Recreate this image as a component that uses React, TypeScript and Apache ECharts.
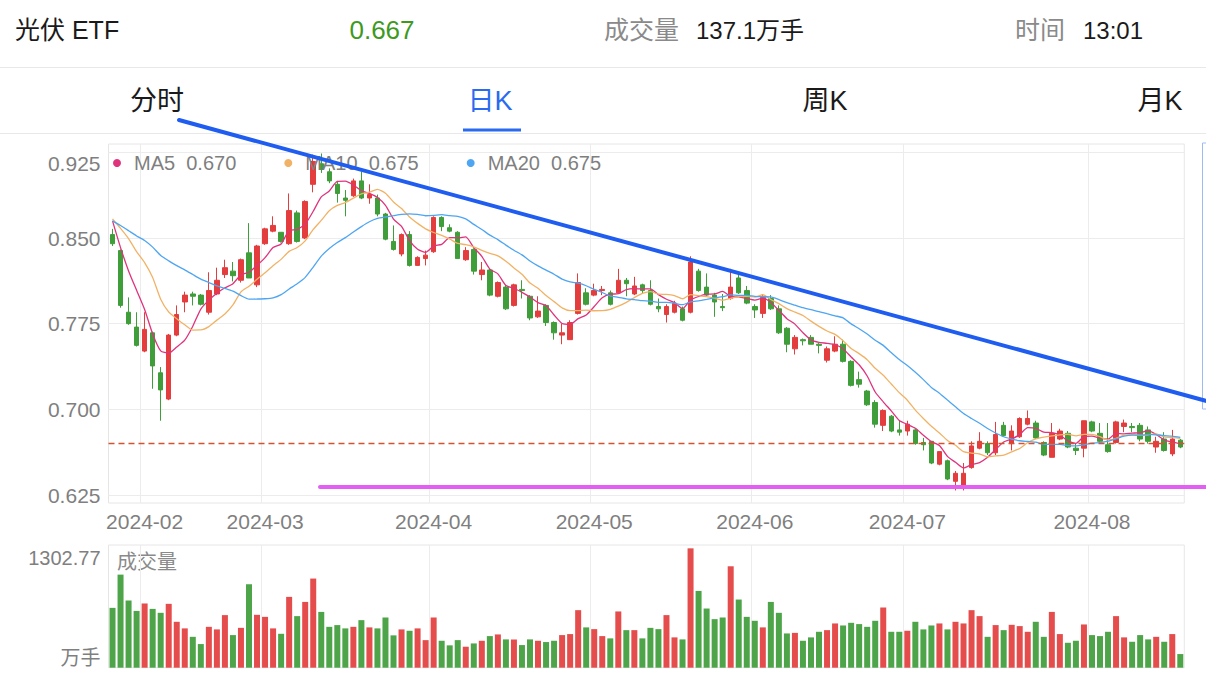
import React, { useEffect, useRef } from 'react';
import * as echarts from 'echarts';

const DATES = [
  '2024-01-26', '2024-01-29', '2024-01-30', '2024-01-31',
  '2024-02-01', '2024-02-02', '2024-02-05', '2024-02-06', '2024-02-07', '2024-02-08',
  '2024-02-19', '2024-02-20', '2024-02-21', '2024-02-22', '2024-02-23',
  '2024-02-26', '2024-02-27', '2024-02-28', '2024-02-29',
  '2024-03-01', '2024-03-04', '2024-03-05', '2024-03-06', '2024-03-07', '2024-03-08',
  '2024-03-11', '2024-03-12', '2024-03-13', '2024-03-14', '2024-03-15',
  '2024-03-18', '2024-03-19', '2024-03-20', '2024-03-21', '2024-03-22',
  '2024-03-25', '2024-03-26', '2024-03-27', '2024-03-28', '2024-03-29',
  '2024-04-01', '2024-04-02', '2024-04-03', '2024-04-08', '2024-04-09', '2024-04-10',
  '2024-04-11', '2024-04-12', '2024-04-15', '2024-04-16', '2024-04-17', '2024-04-18',
  '2024-04-19', '2024-04-22', '2024-04-23', '2024-04-24', '2024-04-25', '2024-04-26',
  '2024-04-29', '2024-04-30',
  '2024-05-06', '2024-05-07', '2024-05-08', '2024-05-09', '2024-05-10',
  '2024-05-13', '2024-05-14', '2024-05-15', '2024-05-16', '2024-05-17',
  '2024-05-20', '2024-05-21', '2024-05-22', '2024-05-23', '2024-05-24',
  '2024-05-27', '2024-05-28', '2024-05-29', '2024-05-30', '2024-05-31',
  '2024-06-03', '2024-06-04', '2024-06-05', '2024-06-06', '2024-06-07',
  '2024-06-11', '2024-06-12', '2024-06-13', '2024-06-14',
  '2024-06-17', '2024-06-18', '2024-06-19', '2024-06-20', '2024-06-21',
  '2024-06-24', '2024-06-25', '2024-06-26', '2024-06-27', '2024-06-28',
  '2024-07-01', '2024-07-02', '2024-07-03', '2024-07-04', '2024-07-05',
  '2024-07-08', '2024-07-09', '2024-07-10', '2024-07-11', '2024-07-12',
  '2024-07-15', '2024-07-16', '2024-07-17', '2024-07-18', '2024-07-19',
  '2024-07-22', '2024-07-23', '2024-07-24', '2024-07-25', '2024-07-26',
  '2024-07-29', '2024-07-30', '2024-07-31',
  '2024-08-01', '2024-08-02', '2024-08-05', '2024-08-06', '2024-08-07', '2024-08-08',
  '2024-08-09', '2024-08-12', '2024-08-13', '2024-08-14', '2024-08-15', '2024-08-16',
];

const OPEN = [
  0.853, 0.839, 0.785, 0.772, 0.751, 0.767, 0.732, 0.709, 0.765, 0.794,
  0.801, 0.800, 0.785, 0.801, 0.818, 0.821, 0.813, 0.837, 0.809, 0.845,
  0.856, 0.855, 0.845, 0.872, 0.850, 0.897, 0.915, 0.908, 0.897, 0.885,
  0.887, 0.900, 0.885, 0.885, 0.871, 0.847, 0.836, 0.853, 0.826, 0.832,
  0.838, 0.868, 0.859, 0.855, 0.831, 0.840, 0.818, 0.822, 0.799, 0.807,
  0.791, 0.805, 0.799, 0.781, 0.791, 0.776, 0.765, 0.761, 0.784, 0.802,
  0.800, 0.804, 0.802, 0.802, 0.813, 0.801, 0.809, 0.804, 0.790, 0.783,
  0.785, 0.788, 0.785, 0.821, 0.807, 0.800, 0.790, 0.797, 0.815, 0.804,
  0.790, 0.784, 0.797, 0.788, 0.771, 0.753, 0.761, 0.763, 0.757, 0.743,
  0.751, 0.757, 0.742, 0.726, 0.716, 0.706, 0.686, 0.694, 0.682, 0.681,
  0.682, 0.671, 0.672, 0.652, 0.655, 0.637, 0.631, 0.649, 0.666, 0.670,
  0.662, 0.686, 0.670, 0.676, 0.687, 0.688, 0.671, 0.658, 0.674, 0.679,
  0.666, 0.666, 0.689, 0.679, 0.669, 0.671, 0.685, 0.685, 0.686, 0.682,
  0.667, 0.674, 0.661, 0.673,
];
const CLOSE = [
  0.845, 0.791, 0.775, 0.756, 0.770, 0.738, 0.717, 0.765, 0.783, 0.800,
  0.799, 0.792, 0.804, 0.813, 0.824, 0.817, 0.831, 0.815, 0.843, 0.858,
  0.861, 0.847, 0.874, 0.847, 0.882, 0.917, 0.910, 0.900, 0.889, 0.883,
  0.900, 0.885, 0.888, 0.871, 0.849, 0.840, 0.853, 0.826, 0.833, 0.835,
  0.868, 0.860, 0.856, 0.832, 0.839, 0.821, 0.822, 0.800, 0.811, 0.788,
  0.809, 0.804, 0.780, 0.786, 0.776, 0.767, 0.767, 0.776, 0.811, 0.792,
  0.804, 0.805, 0.792, 0.813, 0.810, 0.808, 0.804, 0.792, 0.788, 0.790,
  0.793, 0.778, 0.829, 0.804, 0.800, 0.794, 0.789, 0.807, 0.802, 0.793,
  0.787, 0.798, 0.788, 0.767, 0.757, 0.763, 0.760, 0.757, 0.756, 0.753,
  0.757, 0.742, 0.721, 0.722, 0.704, 0.687, 0.699, 0.681, 0.680, 0.687,
  0.670, 0.669, 0.653, 0.663, 0.639, 0.644, 0.644, 0.668, 0.672, 0.662,
  0.678, 0.677, 0.681, 0.692, 0.692, 0.675, 0.660, 0.679, 0.681, 0.667,
  0.664, 0.690, 0.681, 0.672, 0.663, 0.689, 0.688, 0.684, 0.674, 0.672,
  0.672, 0.664, 0.674, 0.667,
];
const LOW = [
  0.843, 0.789, 0.774, 0.755, 0.750, 0.718, 0.690, 0.708, 0.764, 0.785,
  0.791, 0.791, 0.783, 0.800, 0.815, 0.812, 0.811, 0.815, 0.807, 0.844,
  0.855, 0.846, 0.844, 0.846, 0.849, 0.890, 0.907, 0.898, 0.881, 0.869,
  0.886, 0.884, 0.880, 0.869, 0.848, 0.839, 0.834, 0.825, 0.826, 0.826,
  0.837, 0.856, 0.855, 0.832, 0.830, 0.818, 0.813, 0.799, 0.798, 0.787,
  0.790, 0.797, 0.778, 0.780, 0.773, 0.761, 0.757, 0.761, 0.783, 0.791,
  0.799, 0.800, 0.791, 0.801, 0.799, 0.800, 0.801, 0.791, 0.785, 0.776,
  0.784, 0.777, 0.784, 0.803, 0.799, 0.781, 0.786, 0.796, 0.801, 0.792,
  0.780, 0.780, 0.787, 0.766, 0.750, 0.748, 0.756, 0.757, 0.749, 0.741,
  0.750, 0.741, 0.720, 0.719, 0.703, 0.684, 0.681, 0.680, 0.677, 0.677,
  0.669, 0.664, 0.652, 0.651, 0.638, 0.629, 0.629, 0.648, 0.665, 0.660,
  0.660, 0.676, 0.664, 0.675, 0.686, 0.674, 0.659, 0.658, 0.673, 0.666,
  0.660, 0.658, 0.680, 0.671, 0.662, 0.670, 0.680, 0.680, 0.672, 0.670,
  0.662, 0.663, 0.659, 0.666,
];
const HIGH = [
  0.858, 0.840, 0.798, 0.785, 0.785, 0.768, 0.737, 0.766, 0.791, 0.803,
  0.803, 0.801, 0.820, 0.824, 0.831, 0.829, 0.832, 0.863, 0.844, 0.859,
  0.869, 0.855, 0.889, 0.874, 0.883, 0.923, 0.924, 0.911, 0.900, 0.892,
  0.902, 0.908, 0.897, 0.888, 0.872, 0.861, 0.854, 0.856, 0.834, 0.839,
  0.869, 0.869, 0.862, 0.856, 0.842, 0.841, 0.829, 0.823, 0.812, 0.809,
  0.810, 0.813, 0.800, 0.799, 0.792, 0.777, 0.775, 0.778, 0.819, 0.806,
  0.810, 0.808, 0.804, 0.823, 0.815, 0.816, 0.810, 0.813, 0.797, 0.792,
  0.795, 0.790, 0.834, 0.823, 0.819, 0.802, 0.801, 0.823, 0.819, 0.808,
  0.792, 0.801, 0.800, 0.791, 0.772, 0.765, 0.762, 0.765, 0.758, 0.755,
  0.764, 0.761, 0.743, 0.733, 0.717, 0.708, 0.700, 0.695, 0.690, 0.690,
  0.683, 0.675, 0.672, 0.663, 0.656, 0.646, 0.653, 0.672, 0.680, 0.672,
  0.689, 0.689, 0.686, 0.693, 0.699, 0.690, 0.672, 0.688, 0.683, 0.681,
  0.670, 0.690, 0.690, 0.688, 0.688, 0.690, 0.691, 0.688, 0.688, 0.685,
  0.676, 0.680, 0.682, 0.674,
];
// 万手
const VOLUME = [
  653, 1016, 733, 620, 701, 642, 599, 697, 501, 429,
  337, 258, 446, 418, 574, 356, 435, 911, 577, 555,
  429, 370, 773, 563, 718, 973, 609, 446, 465, 429,
  446, 519, 440, 429, 548, 353, 418, 403, 429, 301,
  548, 294, 244, 301, 229, 265, 294, 345, 363, 309,
  309, 247, 309, 294, 280, 294, 356, 367, 628, 440,
  421, 345, 320, 614, 410, 410, 320, 435, 421, 574,
  331, 309, 1302.77, 838, 646, 530, 548, 1107, 744, 555,
  512, 440, 718, 599, 374, 380, 294, 331, 392, 410,
  483, 461, 490, 476, 446, 512, 657, 392, 392, 403,
  501, 418, 461, 483, 418, 501, 483, 628, 563, 337,
  465, 410, 468, 454, 392, 501, 337, 609, 367, 272,
  294, 472, 356, 345, 392, 563, 331, 283, 356, 309,
  337, 283, 367, 149,
];
// closes of the 19 sessions before the first shown day (feed the moving averages)
const PRE_CLOSE = [
  0.872, 0.865, 0.850, 0.848, 0.855, 0.862, 0.859,
  0.868, 0.875, 0.880, 0.872, 0.865, 0.870, 0.866, 0.868,
  0.908, 0.877, 0.841, 0.854,
];

const PRICE_TICKS = [0.625, 0.7, 0.775, 0.85, 0.925];
const MA_PERIODS = [5, 10, 20];
const MA_COLORS = ['#e0337d', '#f2b266', '#4ea6f2'];

const STOCK_NAME = '光伏 ETF';
const LAST_PRICE = '0.667';
const TOTAL_VOL_LABEL = '成交量';
const TOTAL_VOL = '137.1万手';
const TIME_LABEL = '时间';
const TIME = '13:01';
const TABS = ['分时', '日K', '周K', '月K'];
const ACTIVE_TAB = 1;

const FONT = '"Liberation Sans", "Noto Sans CJK SC", sans-serif';
const UP = '#e33d3d';
const DOWN = '#3f9d3a';
const GRID_LINE = '#ececec';
const AXIS_TEXT = '#7f7f7f';

function movingAverage(n: number): number[] {
  const all = [...PRE_CLOSE, ...CLOSE];
  return CLOSE.map((_, i) => {
    const j = i + PRE_CLOSE.length;
    let s = 0;
    for (let k = j - n + 1; k <= j; k++) s += all[k];
    return +(s / n).toFixed(4);
  });
}

const isMonthStart = (i: number) => i > 0 && DATES[i].slice(0, 7) !== DATES[i - 1].slice(0, 7);

export default function App() {
  const ref = useRef<HTMLDivElement>(null);
  useEffect(() => {
    document.body.style.margin = '0';
    if (!ref.current) return;
    const chart = echarts.init(ref.current, undefined, { renderer: 'svg' });

    const candles = DATES.map((_, i) => [OPEN[i], CLOSE[i], LOW[i], HIGH[i]]);
    const mas = MA_PERIODS.map((p) => movingAverage(p));
    const maNames = MA_PERIODS.map((p) => 'MA' + p);
    const lastMa: Record<string, string> = {};
    maNames.forEach((n, k) => (lastMa[n] = mas[k][mas[k].length - 1].toFixed(3)));
    const maxVol = Math.max(...VOLUME);
    const lastClose = CLOSE[CLOSE.length - 1];

    const gridLeft = 108.5;
    const gridRight = 21.7;
    const dashStyle = { color: '#d4522f', type: [6, 4], width: 1.4, opacity: 1 };

    const option: any = {
      animation: false,
      backgroundColor: '#ffffff',
      textStyle: { fontFamily: FONT },
      grid: [
        { left: gridLeft, right: gridRight, top: 144, height: 359, show: true, borderColor: '#e6e6e6', borderWidth: 1 },
        { left: gridLeft, right: gridRight, top: 545, height: 122.7, show: true, borderColor: '#e6e6e6', borderWidth: 1 },
      ],
      legend: {
        data: maNames.map((n, k) => ({ name: n, itemStyle: { color: MA_COLORS[k] } })),
        left: 113,
        top: 153,
        padding: 0,
        icon: 'circle',
        itemWidth: 8,
        itemHeight: 8,
        itemGap: 48,
        textStyle: { color: AXIS_TEXT, fontSize: 20, fontFamily: FONT, padding: [0, 0, 0, 8] },
        formatter: (name: string) => `${name}  ${lastMa[name]}`,
        selectedMode: false,
      },
      xAxis: [
        {
          type: 'category',
          gridIndex: 0,
          data: DATES,
          boundaryGap: true,
          axisLine: { show: false },
          axisTick: { show: false },
          axisLabel: {
            interval: (i: number) => isMonthStart(i),
            formatter: (v: string) => v.slice(0, 7),
            color: AXIS_TEXT,
            fontSize: 21,
            margin: 8,
            fontFamily: FONT,
          },
          splitLine: { show: true, interval: (i: number) => isMonthStart(i), lineStyle: { color: GRID_LINE } },
        },
        {
          type: 'category',
          gridIndex: 1,
          data: DATES,
          boundaryGap: true,
          axisLine: { show: false },
          axisTick: { show: false },
          axisLabel: { show: false },
          splitLine: { show: true, interval: (i: number) => isMonthStart(i), lineStyle: { color: GRID_LINE } },
        },
      ],
      yAxis: [
        {
          type: 'value',
          gridIndex: 0,
          min: 0.618,
          max: 0.9323,
          axisLine: { show: false },
          axisTick: { show: false, customValues: PRICE_TICKS },
          axisLabel: {
            customValues: PRICE_TICKS,
            formatter: (v: number) => (v === PRICE_TICKS[PRICE_TICKS.length - 1] ? `{top|${v.toFixed(3)}}` : `{n|${v.toFixed(3)}}`),
            rich: {
              top: { fontSize: 21, color: AXIS_TEXT, fontFamily: FONT, padding: [22, 0, 0, 0] },
              n: { fontSize: 21, color: AXIS_TEXT, fontFamily: FONT },
            },
            margin: 8,
          },
          splitLine: { show: true, lineStyle: { color: GRID_LINE } },
        },
        {
          type: 'value',
          gridIndex: 1,
          min: 0,
          max: maxVol * 1.028,
          axisLine: { show: false },
          axisTick: { show: false, customValues: [0, maxVol] },
          axisLabel: {
            customValues: [0, maxVol],
            formatter: (v: number) => (v === 0 ? '{u|万手}' : `{v|${v.toFixed(2)}}`),
            rich: {
              u: { fontSize: 20, color: AXIS_TEXT, fontFamily: FONT, padding: [0, 0, 20, 0] },
              v: { fontSize: 20, color: AXIS_TEXT, fontFamily: FONT, padding: [20, 0, 0, 0] },
            },
            margin: 8,
          },
          splitLine: { show: false },
        },
      ],
      series: [
        {
          name: 'K',
          type: 'candlestick',
          xAxisIndex: 0,
          yAxisIndex: 0,
          data: candles,
          barWidth: 5,
          itemStyle: { color: UP, color0: DOWN, borderColor: UP, borderColor0: DOWN, borderWidth: 1 },
        },
        ...maNames.map((n, k) => ({
          name: n,
          type: 'line',
          xAxisIndex: 0,
          yAxisIndex: 0,
          data: mas[k],
          showSymbol: false,
          smooth: 0.2,
          lineStyle: { color: MA_COLORS[k], width: 1.3 },
          itemStyle: { color: MA_COLORS[k] },
          z: 3,
        })),
        {
          name: 'last',
          type: 'line',
          xAxisIndex: 0,
          yAxisIndex: 0,
          data: [],
          silent: true,
          z: 4,
          markLine: {
            silent: true,
            symbol: ['none', 'none'],
            label: { show: false },
            lineStyle: dashStyle,
            emphasis: { disabled: true },
            data: [{ yAxis: lastClose, lineStyle: dashStyle }],
          },
        },
        {
          name: 'VOL',
          type: 'bar',
          xAxisIndex: 1,
          yAxisIndex: 1,
          barWidth: 6,
          data: VOLUME.map((v, i) => ({
            value: v,
            itemStyle: { color: CLOSE[i] >= OPEN[i] ? UP : DOWN, opacity: 0.92 },
          })),
        },
      ],
      graphic: [
        { type: 'text', x: 15, y: 30, style: { text: STOCK_NAME, fill: '#1a1a1a', fontSize: 25, fontFamily: FONT, textVerticalAlign: 'middle' } },
        { type: 'text', x: 382, y: 30, style: { text: LAST_PRICE, fill: '#3d9a1e', fontSize: 26, fontFamily: FONT, textAlign: 'center', textVerticalAlign: 'middle' } },
        { type: 'text', x: 604, y: 30, style: { text: TOTAL_VOL_LABEL, fill: '#8a8a8a', fontSize: 25, fontFamily: FONT, textVerticalAlign: 'middle' } },
        { type: 'text', x: 696, y: 30, style: { text: TOTAL_VOL, fill: '#1a1a1a', fontSize: 24, fontFamily: FONT, textVerticalAlign: 'middle' } },
        { type: 'text', x: 1015, y: 30, style: { text: TIME_LABEL, fill: '#8a8a8a', fontSize: 25, fontFamily: FONT, textVerticalAlign: 'middle' } },
        { type: 'text', x: 1083, y: 30, style: { text: TIME, fill: '#1a1a1a', fontSize: 24, fontFamily: FONT, textVerticalAlign: 'middle' } },
        { type: 'line', shape: { x1: 0, y1: 67.5, x2: 1206, y2: 67.5 }, style: { stroke: '#e8e8e8', lineWidth: 1 } },
        ...TABS.map((t, i) => ({
          type: 'text',
          x: [157, 490, 825, 1160][i],
          y: 101,
          style: {
            text: t,
            fill: i === ACTIVE_TAB ? '#2a6af0' : '#1a1a1a',
            fontSize: 27,
            fontFamily: FONT,
            textAlign: 'center',
            textVerticalAlign: 'middle',
          },
        })),
        { type: 'rect', shape: { x: 463, y: 128.5, width: 58, height: 3 }, style: { fill: '#2a6af0' } },
        { type: 'line', shape: { x1: 0, y1: 133.5, x2: 1206, y2: 133.5 }, style: { stroke: '#e8e8e8', lineWidth: 1 } },
        { type: 'text', x: 117, y: 562, style: { text: '成交量', fill: '#8a8a8a', fontSize: 20, fontFamily: FONT, textVerticalAlign: 'middle' } },
        { type: 'rect', shape: { x: 1202.5, y: 143, width: 20, height: 266 }, style: { fill: 'none', stroke: '#9dbcf2', lineWidth: 1 }, z: 50 },
        { type: 'line', shape: { x1: 320, y1: 487, x2: 1206, y2: 487 }, style: { stroke: '#e35ef2', lineWidth: 4, lineCap: 'round' }, z: 100 },
        { type: 'line', shape: { x1: 179, y1: 120, x2: 1210, y2: 402 }, style: { stroke: '#1f5cf0', lineWidth: 4, lineCap: 'round' }, z: 100 },
      ],
    };
    chart.setOption(option);
    return () => chart.dispose();
  }, []);
  return <div ref={ref} style={{ width: 1206, height: 680 }} />;
}
